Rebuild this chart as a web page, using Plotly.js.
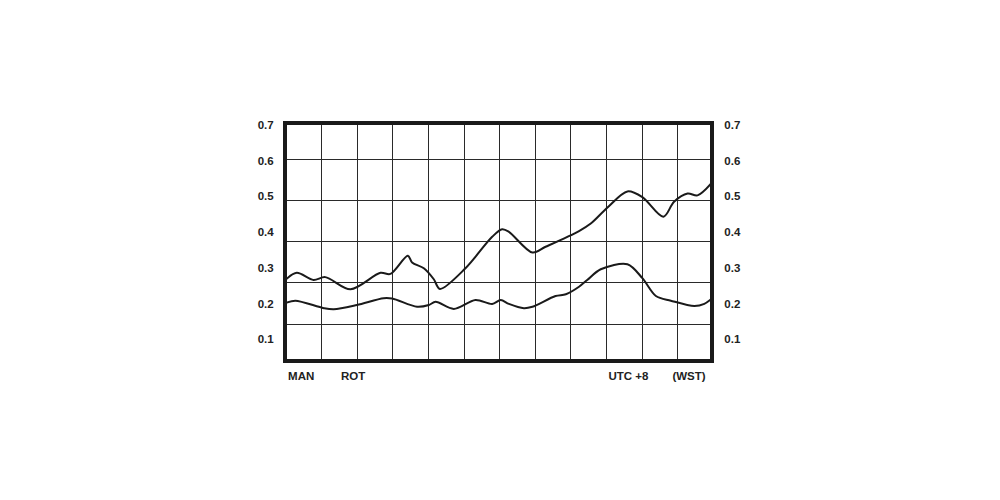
<!DOCTYPE html>
<html><head><meta charset="utf-8">
<script src="https://cdn.plot.ly/plotly-3.0.1.min.js"></script>
<style>html,body{margin:0;padding:0;background:#fff}#chart{width:1000px;height:500px}</style>
</head><body><div id="chart"></div>
<script>
// x in grid-column units (12 columns), y in chart value units
const upperX = [0.00, 0.30, 0.77, 1.10, 1.81, 2.65, 2.93, 3.42, 3.54, 3.87, 4.15, 4.32, 5.04, 5.79, 6.07, 6.26, 6.92, 7.29, 8.23, 8.56, 9.03, 9.59, 10.01, 10.60, 10.90, 11.28, 11.56, 11.94, 12.00];
const upperY = [0.268, 0.286, 0.266, 0.274, 0.240, 0.286, 0.283, 0.334, 0.315, 0.299, 0.268, 0.241, 0.299, 0.387, 0.408, 0.401, 0.343, 0.359, 0.403, 0.424, 0.469, 0.514, 0.498, 0.443, 0.485, 0.508, 0.503, 0.536, 0.545];
const lowerX = [0.00, 0.26, 1.06, 1.34, 1.99, 2.74, 2.98, 3.68, 4.01, 4.20, 4.71, 5.32, 5.79, 6.03, 6.26, 6.68, 6.92, 7.57, 7.86, 8.23, 8.46, 8.84, 9.59, 10.01, 10.39, 10.81, 11.47, 11.75, 11.94, 12.00];
const lowerY = [0.202, 0.208, 0.187, 0.184, 0.196, 0.215, 0.214, 0.191, 0.196, 0.205, 0.185, 0.210, 0.199, 0.210, 0.199, 0.187, 0.191, 0.221, 0.226, 0.247, 0.266, 0.296, 0.310, 0.271, 0.221, 0.208, 0.193, 0.199, 0.212, 0.216];
const yTickVals = [0.1, 0.2, 0.3, 0.4, 0.5, 0.6, 0.7];
const yTickText = ['0.1', '0.2', '0.3', '0.4', '0.5', '0.6', '0.7'];
const gridVals = [0.142, 0.258, 0.375, 0.489, 0.603];
const xLabelPos = [0.424, 1.88, 9.62, 11.32];
const xLabelText = ['MAN', 'ROT', 'UTC +8', '(WST)'];
const xRange = [0.025, 11.91];
const yRange = [0.0447, 0.7001];

const ink = '#1a1a1a';
const lblFont = {family: 'Liberation Sans, Arial, sans-serif', size: 11.5, color: '#222', weight: 'bold'};

const lineStyle = {color: ink, width: 2, shape: 'spline', smoothing: 0.9};
const traces = [
  {x: upperX, y: upperY, type: 'scatter', mode: 'lines', line: lineStyle, hoverinfo: 'skip'},
  {x: lowerX, y: lowerY, type: 'scatter', mode: 'lines', line: lineStyle, hoverinfo: 'skip'},
  {x: [], y: [], type: 'scatter', mode: 'lines', xaxis: 'x', yaxis: 'y2', hoverinfo: 'skip'},
  {x: [], y: [], type: 'scatter', mode: 'lines', xaxis: 'x', yaxis: 'y3', hoverinfo: 'skip'},
  {x: [], y: [], type: 'scatter', mode: 'lines', xaxis: 'x2', yaxis: 'y', hoverinfo: 'skip'}
];

const labelAxis = {
  range: yRange, tickvals: yTickVals, ticktext: yTickText, showgrid: false, zeroline: false,
  showline: false, ticks: 'outside', tickcolor: 'rgba(0,0,0,0)', tickfont: lblFont,
  fixedrange: true
};

const layout = {
  width: 1000, height: 500,
  margin: {l: 287, r: 290, t: 125, b: 141},
  paper_bgcolor: '#fff', plot_bgcolor: '#fff',
  showlegend: false,
  xaxis: {
    range: xRange, dtick: 1, tick0: 0, showgrid: true, gridcolor: '#2a2a2a', gridwidth: 1,
    showticklabels: false, ticks: '', zeroline: false,
    showline: true, mirror: true, linecolor: ink, linewidth: 4, fixedrange: true
  },
  yaxis: {
    range: yRange, tickvals: gridVals, showgrid: true, gridcolor: '#2a2a2a', gridwidth: 1,
    showticklabels: false, ticks: '', zeroline: false,
    showline: true, mirror: true, linecolor: ink, linewidth: 4, fixedrange: true
  },
  yaxis2: Object.assign({}, labelAxis, {overlaying: 'y', side: 'left', anchor: 'x', ticklen: 10}),
  yaxis3: Object.assign({}, labelAxis, {overlaying: 'y', side: 'right', anchor: 'x', ticklen: 11}),
  xaxis2: {
    overlaying: 'x', side: 'bottom', anchor: 'y', range: xRange,
    tickvals: xLabelPos, ticktext: xLabelText, showgrid: false, zeroline: false, showline: false,
    ticks: 'outside', ticklen: 6, tickcolor: 'rgba(0,0,0,0)', tickfont: lblFont, fixedrange: true
  }
};

Plotly.newPlot('chart', traces, layout, {staticPlot: true, displayModeBar: false});
</script>
</body></html>
